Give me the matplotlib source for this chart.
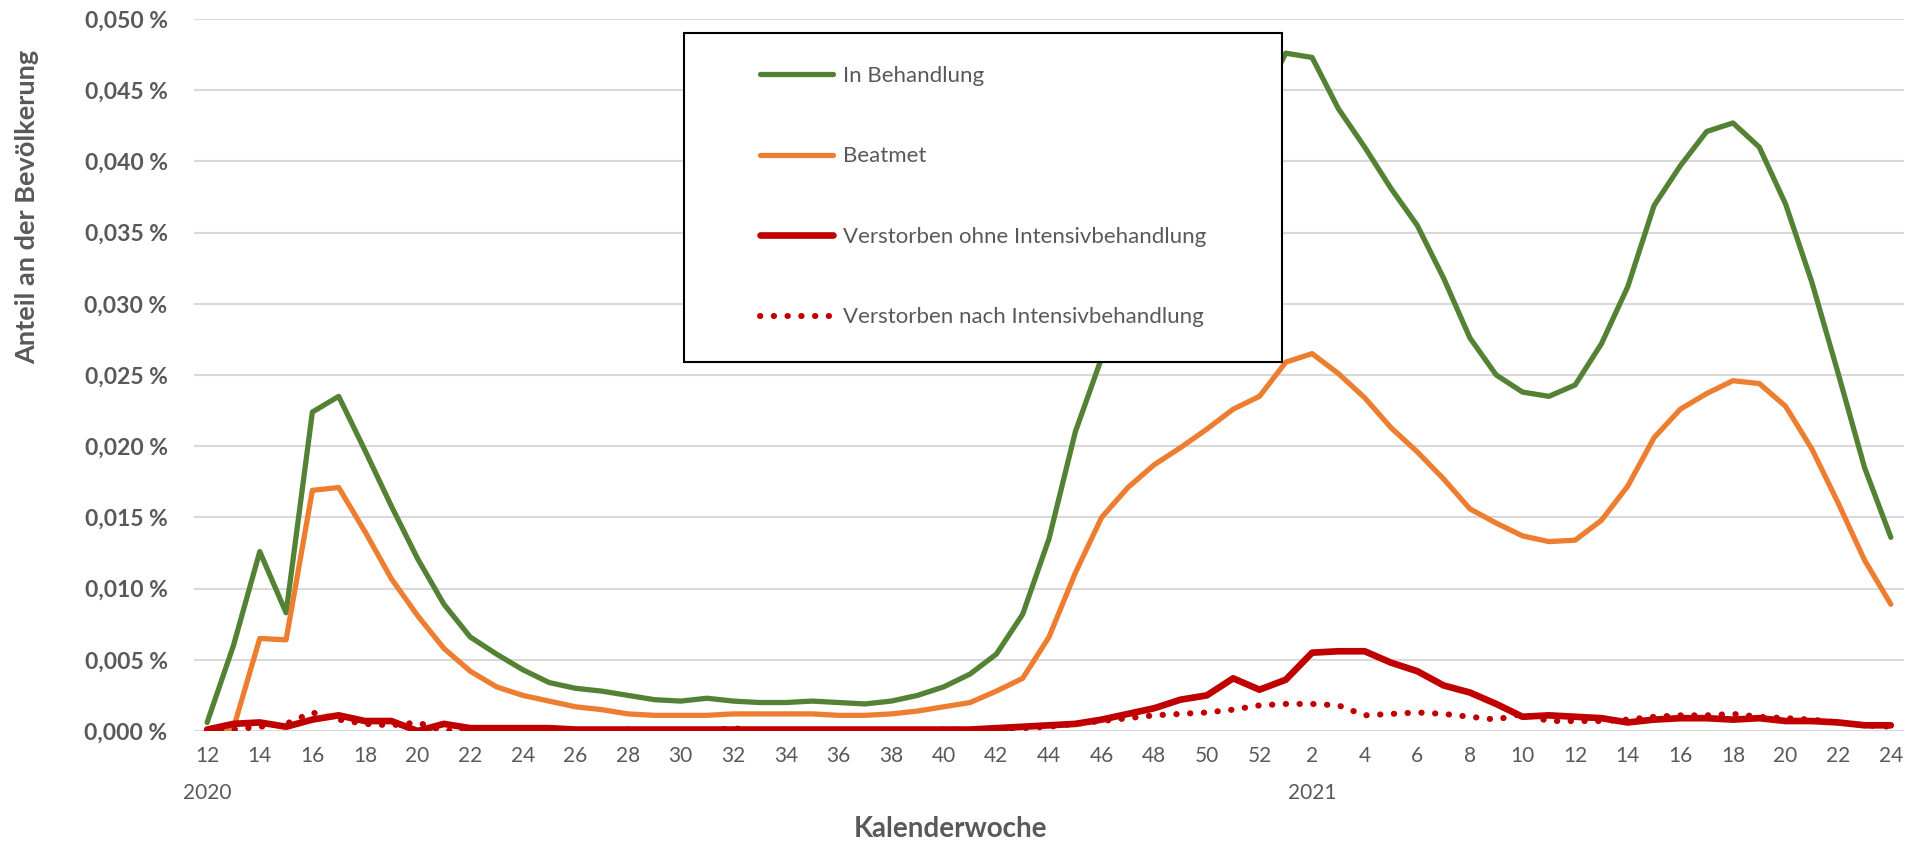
import numpy as np
import matplotlib
matplotlib.use("Agg")
import matplotlib.pyplot as plt
from matplotlib.patches import Rectangle
from matplotlib.lines import Line2D

plt.rcParams['font.family'] = ['Lato', 'DejaVu Sans']

# Kalenderwochen: 2020 KW12..52, 2021 KW1..24
kw_2020 = list(range(12, 53))
kw_2021 = list(range(1, 25))

# Anteil an der Bevoelkerung in %
behandlung_2020 = [0.0006, 0.0060, 0.0126, 0.0083, 0.0224, 0.0235, 0.0197, 0.0158, 0.0121, 0.0089,
                   0.0066, 0.0054, 0.0043, 0.0034, 0.0030, 0.0028, 0.0025, 0.0022, 0.0021, 0.0023,
                   0.0021, 0.0020, 0.0020, 0.0021, 0.0020, 0.0019, 0.0021, 0.0025, 0.0031, 0.0040,
                   0.0054, 0.0082, 0.0135, 0.0210, 0.0262, 0.0300, 0.0335, 0.0365, 0.0392, 0.0418,
                   0.0440]
behandlung_2021 = [0.0476, 0.0473, 0.0437, 0.0410, 0.0381, 0.0355, 0.0318, 0.0276, 0.0250, 0.0238,
                   0.0235, 0.0243, 0.0272, 0.0312, 0.0369, 0.0397, 0.0421, 0.0427, 0.0410, 0.0370,
                   0.0315, 0.0251, 0.0185, 0.0136]

beatmet_2020 = [0.0000, 0.0002, 0.0065, 0.0064, 0.0169, 0.0171, 0.0140, 0.0107, 0.0081, 0.0058,
                0.0042, 0.0031, 0.0025, 0.0021, 0.0017, 0.0015, 0.0012, 0.0011, 0.0011, 0.0011,
                0.0012, 0.0012, 0.0012, 0.0012, 0.0011, 0.0011, 0.0012, 0.0014, 0.0017, 0.0020,
                0.0028, 0.0037, 0.0066, 0.0111, 0.0150, 0.0171, 0.0187, 0.0199, 0.0212, 0.0226,
                0.0235]
beatmet_2021 = [0.0259, 0.0265, 0.0251, 0.0234, 0.0213, 0.0196, 0.0177, 0.0156, 0.0146, 0.0137,
                0.0133, 0.0134, 0.0148, 0.0172, 0.0206, 0.0226, 0.0237, 0.0246, 0.0244, 0.0228,
                0.0198, 0.0160, 0.0120, 0.0089]

ohne_2020 = [0.0001, 0.0005, 0.0006, 0.0003, 0.0008, 0.0011, 0.0007, 0.0007, 0.0000, 0.0005,
             0.0002, 0.0002, 0.0002, 0.0002, 0.0001, 0.0001, 0.0001, 0.0001, 0.0001, 0.0001,
             0.0001, 0.0001, 0.0001, 0.0001, 0.0001, 0.0001, 0.0001, 0.0001, 0.0001, 0.0001,
             0.0002, 0.0003, 0.0004, 0.0005, 0.0008, 0.0012, 0.0016, 0.0022, 0.0025, 0.0037,
             0.0029]
ohne_2021 = [0.0036, 0.0055, 0.0056, 0.0056, 0.0048, 0.0042, 0.0032, 0.0027, 0.0019, 0.0010,
             0.0011, 0.0010, 0.0009, 0.0006, 0.0008, 0.0009, 0.0009, 0.0008, 0.0009, 0.0007,
             0.0007, 0.0006, 0.0004, 0.0004]

nach_2020 = [0.0000, 0.0001, 0.0003, 0.0005, 0.0013, 0.0008, 0.0005, 0.0004, 0.0006, 0.0000,
             0.0001, 0.0001, 0.0000, 0.0001, 0.0000, 0.0000, 0.0001, 0.0000, 0.0000, 0.0000,
             0.0002, 0.0000, 0.0001, 0.0000, 0.0001, 0.0000, 0.0001, 0.0000, 0.0001, 0.0001,
             0.0001, 0.0002, 0.0003, 0.0005, 0.0007, 0.0009, 0.0011, 0.0012, 0.0013, 0.0015,
             0.0018]
nach_2021 = [0.0019, 0.0019, 0.0018, 0.0011, 0.0012, 0.0013, 0.0012, 0.0010, 0.0008, 0.0012,
             0.0007, 0.0007, 0.0007, 0.0008, 0.0010, 0.0011, 0.0011, 0.0012, 0.0010, 0.0009,
             0.0008, 0.0006, 0.0004, 0.0003]

labels = ["In Behandlung", "Beatmet",
          "Verstorben ohne Intensivbehandlung", "Verstorben nach Intensivbehandlung"]

kw = kw_2020 + kw_2021
x = np.arange(len(kw))
series = [behandlung_2020 + behandlung_2021, beatmet_2020 + beatmet_2021,
          ohne_2020 + ohne_2021, nach_2020 + nach_2021]

grau = '#595959'
farben = ['#548235', '#ED7D31', '#C00000', '#C00000']
dotted = (0, (0.05, 2.2))

fig = plt.figure(figsize=(19.14, 8.49), dpi=100)
ax = fig.add_axes([194/1914, 1 - 731/849, 1710/1914, 712/849])

handles = []
for i, (y, lab) in enumerate(zip(series, labels)):
    if i == 3:
        ln, = ax.plot(x, y, color=farben[i], lw=4.4, linestyle=dotted,
                      dash_capstyle='round', zorder=3 + i)
    elif i == 2:
        ln, = ax.plot(x, y, color=farben[i], lw=4.8, solid_capstyle='round',
                      solid_joinstyle='round', zorder=3 + i)
    else:
        ln, = ax.plot(x, y, color=farben[i], lw=3.8, solid_capstyle='round',
                      solid_joinstyle='round', zorder=3 + i)
    handles.append(ln)

ax.set_xlim(-0.5, len(kw) - 0.5)
ax.set_ylim(0, 0.05)
yt = np.arange(0, 0.0501, 0.005)
ax.set_yticks(yt)
ax.set_yticklabels([("%.3f" % v).replace('.', ',') + " %" for v in yt],
                   fontsize=16.5, fontweight='bold', color=grau)
ax.set_xticks(x[::2])
ax.set_xticklabels([str(k) for k in kw[::2]], fontsize=15, color=grau)
ax.tick_params(axis='both', length=0)
ax.tick_params(axis='y', pad=19)
ax.tick_params(axis='x', pad=11)
ax.grid(axis='y', color='#D9D9D9', lw=1.5)
ax.set_axisbelow(True)
for s in ax.spines.values():
    s.set_visible(False)

# Jahresbeschriftung unter den Wochen
ax.text(kw.index(12), -0.087, "2020", transform=ax.get_xaxis_transform(),
        ha='center', va='center', fontsize=15, color=grau)
ax.text(len(kw_2020) + kw_2021.index(2), -0.087, "2021", transform=ax.get_xaxis_transform(),
        ha='center', va='center', fontsize=15, color=grau)

fig.text(951/1914, 1 - 829/849, "Kalenderwoche", ha='center', va='center',
         fontsize=20, fontweight='bold', color=grau)
fig.text(27/1914, 1 - 207/849, "Anteil an der Bevölkerung", ha='center', va='center',
         rotation=90, fontsize=19.5, fontweight='bold', color=grau)

# Legendenkasten
box = Rectangle((684/1914, 1 - 362/849), 598/1914, 329/849, transform=fig.transFigure,
                facecolor='white', edgecolor='black', lw=1.5, zorder=4)
fig.patches.append(box)

leg_handles = [Line2D([], [], color=h.get_color(), lw=h.get_linewidth(),
                      linestyle=h.get_linestyle(), dash_capstyle='round',
                      solid_capstyle='round') for h in handles]
leg_handles[3].set_linestyle(dotted)
leg = fig.legend(leg_handles, labels, loc='upper left', bbox_to_anchor=(760/1914, 1 - 66/849),
                 bbox_transform=fig.transFigure, frameon=False, borderpad=0, borderaxespad=0,
                 fontsize=16, handlelength=3.3, handletextpad=0.45, labelspacing=2.72)
leg.set_zorder(5)
for t in leg.get_texts():
    t.set_color(grau)

fig.savefig("out.png", dpi=100)
